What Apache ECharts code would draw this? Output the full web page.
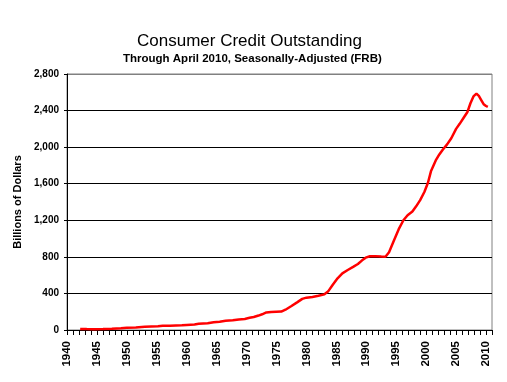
<!DOCTYPE html>
<html>
<head>
<meta charset="utf-8">
<script src="https://cdn.jsdelivr.net/npm/echarts@6/dist/echarts.min.js"></script>
<style>html,body{margin:0;padding:0;background:#fff}#c{width:507px;height:382px}</style>
</head>
<body>
<div id="c"></div>
<script>
var years = [1942.2,1943.3,1944.5,1946,1947.5,1949,1950,1951.5,1953,1955.2,1956,1957.2,1959.2,1960,1961.3,1962,1963.5,1964.5,1965.5,1966.5,1967.7,1968.7,1969.7,1970.5,1971.2,1972,1972.6,1973.3,1974.1,1975.8,1976.5,1977.5,1978.5,1979.3,1980,1981,1982,1983,1983.6,1984.4,1985.2,1986,1986.9,1987.8,1988.6,1989.3,1989.9,1990.6,1991.5,1992.5,1993.2,1993.8,1994.6,1995.4,1996.2,1996.9,1997.7,1998.3,1999,1999.7,2000.3,2000.8,2001.6,2002.2,2002.8,2003.5,2004.2,2005,2005.6,2006.4,2006.9,2007.4,2007.9,2008.4,2008.8,2009.2,2009.6,2010.0,2010.3];
var credit = [12,10,9,10,13,20,25,27,36,42,47,47,52,56,60,68,73,84,90,101,106,116,121,133,142,158,172,192,198,201,222,262,305,340,354,362,374,390,420,495,565,620,656,690,722,762,791,806,808,804,802,850,975,1100,1200,1255,1295,1350,1420,1510,1610,1735,1855,1920,1975,2030,2097,2200,2255,2335,2385,2480,2555,2585,2560,2515,2470,2450,2440];
var yTicks = [0,400,800,1200,1600,2000,2400,2800];

var data = years.map(function(y,i){return [y, credit[i]];});
var chart = echarts.init(document.getElementById('c'));
var font = '"Liberation Sans", Arial, sans-serif';
chart.setOption({
  animation:false,
  backgroundColor:'#fff',
  title:[{text:'Consumer Credit Outstanding',left:137,top:33,padding:0,
          textStyle:{fontFamily:font,fontSize:17,fontWeight:'normal',color:'#000'}},
         {text:'Through April 2010, Seasonally-Adjusted (FRB)',left:123,top:53,padding:0,
          textStyle:{fontFamily:font,fontSize:11.5,fontWeight:'bold',color:'#000'}}],
  grid:{left:67,right:15,top:74,bottom:52,show:true,borderColor:'#808080',borderWidth:1,backgroundColor:'transparent'},
  xAxis:{type:'value',min:1940,max:2011,interval:1,
    axisLine:{lineStyle:{color:'#000',width:1}},
    axisTick:{length:5,lineStyle:{color:'#000'}},
    splitLine:{show:false},
    axisLabel:{rotate:90,margin:11,fontFamily:font,fontSize:11.5,fontWeight:'bold',color:'#000',
      formatter:function(v){return (v%5===0 && v<=2010)?String(v):'';}}},
  yAxis:{type:'value',min:0,max:2800,interval:400,
    name:'Billions of Dollars',nameLocation:'middle',nameGap:44,
    nameTextStyle:{fontFamily:font,fontSize:11,fontWeight:'bold',color:'#000'},
    axisLine:{show:true,lineStyle:{color:'#000',width:1}},
    axisTick:{show:true,length:3,lineStyle:{color:'#000'}},
    splitLine:{show:true,lineStyle:{color:['#000','#000','#000','#000','#000','#000','#000','#808080'],width:1}},
    axisLabel:{margin:8,fontFamily:font,fontSize:10,fontWeight:'bold',color:'#000',
      formatter:function(v){return v.toLocaleString('en-US');}}},
  series:[{type:'line',data:data,showSymbol:false,smooth:false,
    lineStyle:{color:'#ff0000',width:2.5}}]
});
</script>
</body>
</html>
